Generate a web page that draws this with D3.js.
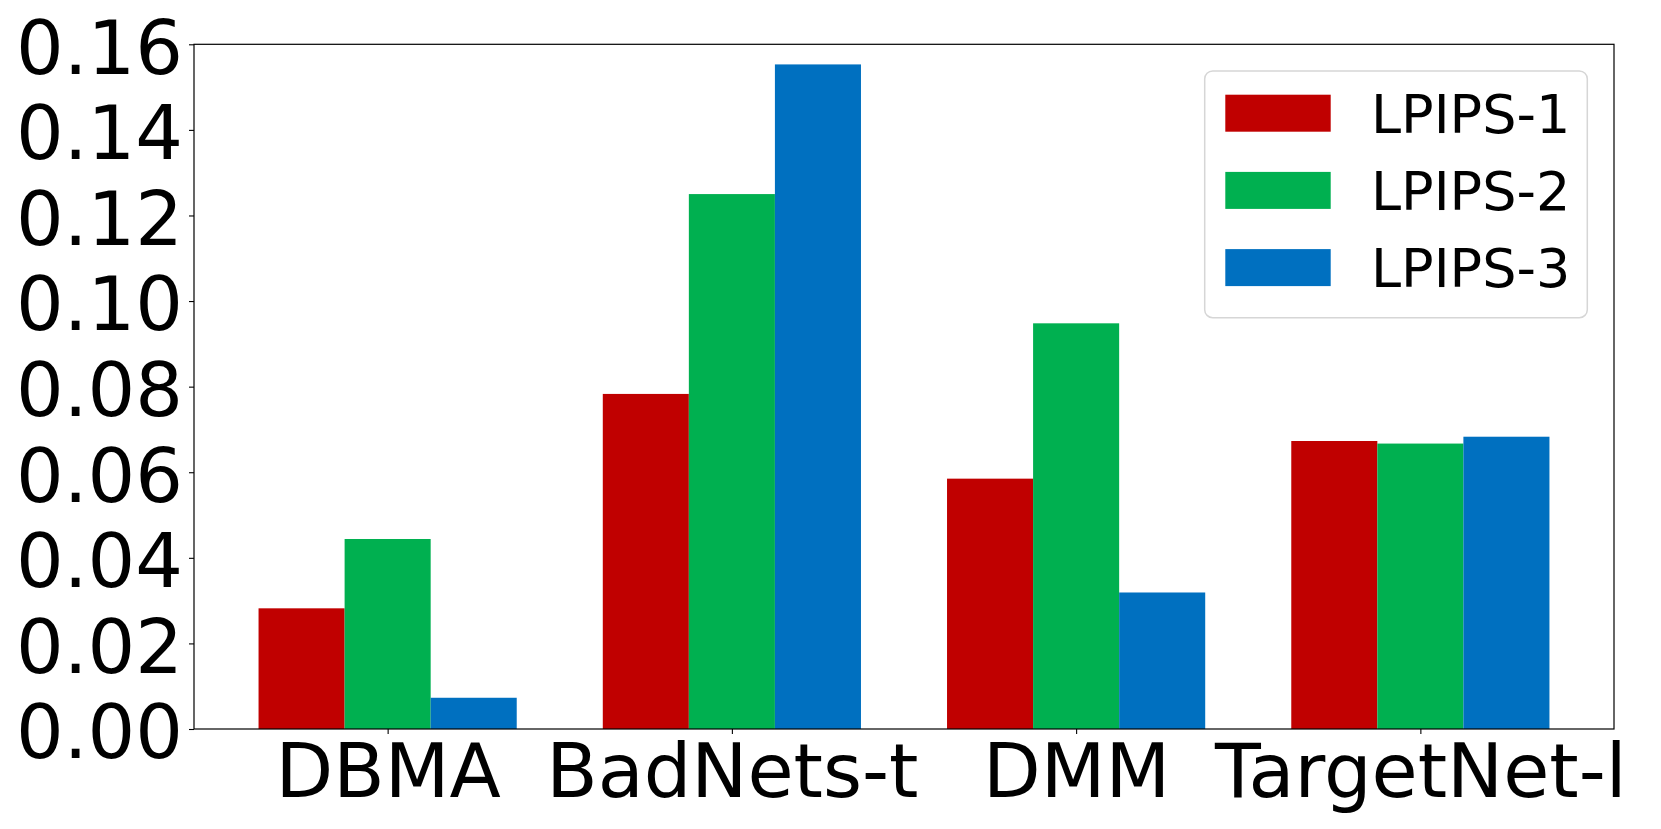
<!DOCTYPE html>
<html>
<head>
<meta charset="utf-8">
<script src="https://cdn.jsdelivr.net/npm/d3@7"></script>
<style>
  html, body { margin: 0; padding: 0; background: #fff; }
  svg { display: block; }
  text { font-family: "DejaVu Sans", sans-serif; fill: #000; }
</style>
</head>
<body>
<svg id="chart" width="1661" height="829"></svg>
<script>
// ---- data ----
const categories = ["DBMA", "BadNets-t", "DMM", "TargetNet-l"];
const seriesNames = ["LPIPS-1", "LPIPS-2", "LPIPS-3"];
const lpips1 = [0.0282, 0.0783, 0.0585, 0.0673];
const lpips2 = [0.0444, 0.1250, 0.0948, 0.0667];
const lpips3 = [0.0073, 0.1553, 0.0319, 0.0683];
const yTicks = [0.00, 0.02, 0.04, 0.06, 0.08, 0.10, 0.12, 0.14, 0.16];
const colors = ["#C00000", "#00B050", "#0070C0"];

const seriesValues = [lpips1, lpips2, lpips3];

(function () {
  // ---- layout ----
  const plotL = 194, plotR = 1614, plotT = 44.3, plotB = 729;
  const barWidth = 0.25;
  const offsets = [-0.25, 0, 0.25];

  const svg = d3.select("#chart");

  const x = d3.scaleLinear().domain([-0.5625, 3.5625]).range([plotL, plotR]);
  const y = d3.scaleLinear().domain([0, 0.16]).range([plotB, plotT]);

  // bars
  seriesValues.forEach((vals, si) => {
    svg.append("g")
      .selectAll("rect")
      .data(vals)
      .join("rect")
      .attr("x", (d, i) => x(i + offsets[si] - barWidth / 2))
      .attr("width", (d, i) => x(i + offsets[si] + barWidth / 2) - x(i + offsets[si] - barWidth / 2))
      .attr("y", d => y(d))
      .attr("height", d => y(0) - y(d))
      .attr("fill", colors[si]);
  });

  // y axis
  const yAxis = d3.axisLeft(y)
    .tickValues(yTicks)
    .tickFormat(d3.format(".2f"))
    .tickSize(5)
    .tickPadding(6);
  const gy = svg.append("g").attr("transform", `translate(${plotL},0)`).call(yAxis);
  gy.select(".domain").remove();
  gy.selectAll(".tick line").attr("stroke", "#000").attr("stroke-width", 1.1);
  gy.selectAll(".tick text")
    .attr("font-size", 75)
    .attr("font-family", "DejaVu Sans, sans-serif")
    .attr("fill", "#000")
    .attr("dy", "0.385em");

  // x axis
  const xAxis = d3.axisBottom(x)
    .tickValues(d3.range(categories.length))
    .tickFormat(i => categories[i])
    .tickSize(5)
    .tickPadding(10);
  const gx = svg.append("g").attr("transform", `translate(0,${plotB})`).call(xAxis);
  gx.select(".domain").remove();
  gx.selectAll(".tick line").attr("stroke", "#000").attr("stroke-width", 1.1);
  gx.selectAll(".tick text")
    .attr("font-size", 75)
    .attr("font-family", "DejaVu Sans, sans-serif")
    .attr("fill", "#000")
    .attr("y", 67.7)
    .attr("dy", null);

  // frame (spines)
  svg.append("rect")
    .attr("x", plotL).attr("y", plotT)
    .attr("width", plotR - plotL).attr("height", plotB - plotT)
    .attr("fill", "none").attr("stroke", "#000").attr("stroke-width", 1.2);

  // legend
  const lg = svg.append("g");
  lg.append("rect")
    .attr("x", 1204.7).attr("y", 71)
    .attr("width", 382.6).attr("height", 246.7)
    .attr("rx", 8).attr("ry", 8)
    .attr("fill", "#fff").attr("fill-opacity", 0.8)
    .attr("stroke", "#d6d6d6").attr("stroke-width", 1.5);

  const items = lg.selectAll("g.item")
    .data(seriesNames)
    .join("g")
    .attr("class", "item")
    .attr("transform", (d, i) => `translate(0,${i * 77.2})`);
  items.append("rect")
    .attr("x", 1225.3).attr("y", 94.7)
    .attr("width", 105.4).attr("height", 37)
    .attr("fill", (d, i) => colors[i]);
  items.append("text")
    .attr("x", 1371).attr("y", 132.7)
    .attr("font-size", 54)
    .text(d => d);
})();
</script>
</body>
</html>
